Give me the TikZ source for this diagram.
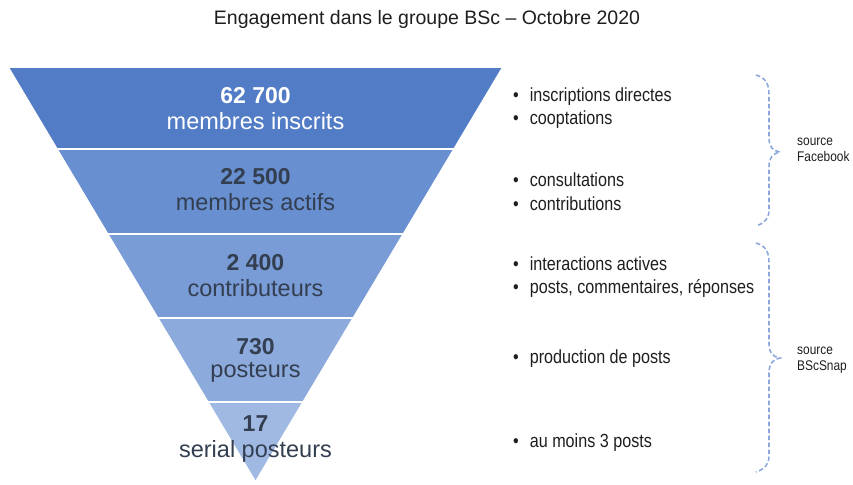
\documentclass[tikz,border=0pt]{standalone}
\usepackage{fontspec}
\setmainfont{Liberation Sans}
\newfontfamily\narrowfont[FakeStretch=0.85]{Liberation Sans}
\usetikzlibrary{
    calc,
    positioning
}
\definecolor{bandA}{RGB}{82,125,198}
\definecolor{bandB}{RGB}{104,143,208}
\definecolor{bandC}{RGB}{121,155,214}
\definecolor{bandD}{RGB}{140,170,220}
\definecolor{bandE}{RGB}{160,185,227}
\definecolor{funneltext}{RGB}{51,63,80}
\definecolor{bracecol}{RGB}{140,168,218}
\definecolor{itemtext}{RGB}{30,30,30}
\tikzset{
    band/.style={draw=white, line width=1.6pt},
    count/.style={font=\bfseries\fontsize{23}{26}\selectfont, text=funneltext},
    level/.style={font=\fontsize{23.5}{26}\selectfont, text=funneltext},
    item/.style={anchor=west, inner sep=0pt, text=itemtext,
        font=\narrowfont\fontsize{19}{22}\selectfont},
    source/.style={anchor=west, inner sep=0pt, align=left, text=itemtext,
        font=\narrowfont\fontsize{14}{16}\selectfont},
    bracepath/.style={draw=bracecol, dashed, dash pattern=on 4.5pt off 2.5pt, line width=1.6pt}
}

\begin{document}
\begin{tikzpicture}[x=1pt, y=-1pt]
    \useasboundingbox (0,0) rectangle (853,484);
    \node[text=itemtext, font=\fontsize{19.5}{24}\selectfont] (title) at (427,19)
        {Engagement dans le groupe BSc – Octobre 2020};
    % funnel bands
    \foreach \ya/\yb/\col in {67/149/bandA, 149/234/bandB, 234/318/bandC,
                              318/402/bandD, 402/482/bandE} {
        \pgfmathsetmacro\la{8+(\ya-67)*0.5964}
        \pgfmathsetmacro\ra{503-(\ya-67)*0.5964}
        \pgfmathsetmacro\lb{8+(\yb-67)*0.5964}
        \pgfmathsetmacro\rb{503-(\yb-67)*0.5964}
        \filldraw[band, fill=\col] (\la,\ya) -- (\ra,\ya) -- (\rb,\yb) -- (\lb,\yb) -- cycle;
    }
    \node[count, text=white] (n1) at (255.5,96) {62 700};
    \node[level, text=white] (l1) at (255.5,121) {membres inscrits};
    \node[count] (n2) at (255.5,177) {22 500};
    \node[level] (l2) at (255.5,202) {membres actifs};
    \node[count] (n3) at (255.5,263) {2 400};
    \node[level] (l3) at (255.5,288) {contributeurs};
    \node[count] (n4) at (255.5,347) {730};
    \node[level] (l4) at (255.5,372) {posteurs};
    \node[count] (n5) at (255.5,424) {17};
    \node[level] (l5) at (255.5,451) {serial posteurs};
    % bullet lists
    \node[item] (i1a) at (513,97) {\textbullet\hspace{11pt}inscriptions directes};
    \node[item] (i1b) at (513,120) {\textbullet\hspace{11pt}cooptations};
    \node[item] (i2a) at (513,180) {\textbullet\hspace{11pt}consultations};
    \node[item] (i2b) at (513,204) {\textbullet\hspace{11pt}contributions};
    \node[item] (i3a) at (513,264) {\textbullet\hspace{11pt}interactions actives};
    \node[item] (i3b) at (513,288) {\textbullet\hspace{11pt}posts, commentaires, réponses};
    \node[item] (i4) at (513,359) {\textbullet\hspace{11pt}production de posts};
    \node[item] (i5) at (513,443) {\textbullet\hspace{11pt}au moins 3 posts};
    % braces
    \draw[bracepath] (756,75) .. controls (766,78) and (769,84) .. (769,95)
        -- (769,138) .. controls (769,147) and (773,151) .. (780,152)
        .. controls (773,153) and (769,158) .. (769,167)
        -- (769,210) .. controls (769,218) and (765,223) .. (756,226);
    \draw[bracepath] (756,243) .. controls (766,246) and (769,252) .. (769,263)
        -- (769,344) .. controls (769,353) and (773,357) .. (780,358)
        .. controls (773,359) and (769,364) .. (769,373)
        -- (769,456) .. controls (769,464) and (765,469) .. (756,472);
    \node[source] (s1) at (797,150) {source\\Facebook};
    \node[source] (s2) at (797,360) {source\\BScSnap};
\end{tikzpicture}
\end{document}
